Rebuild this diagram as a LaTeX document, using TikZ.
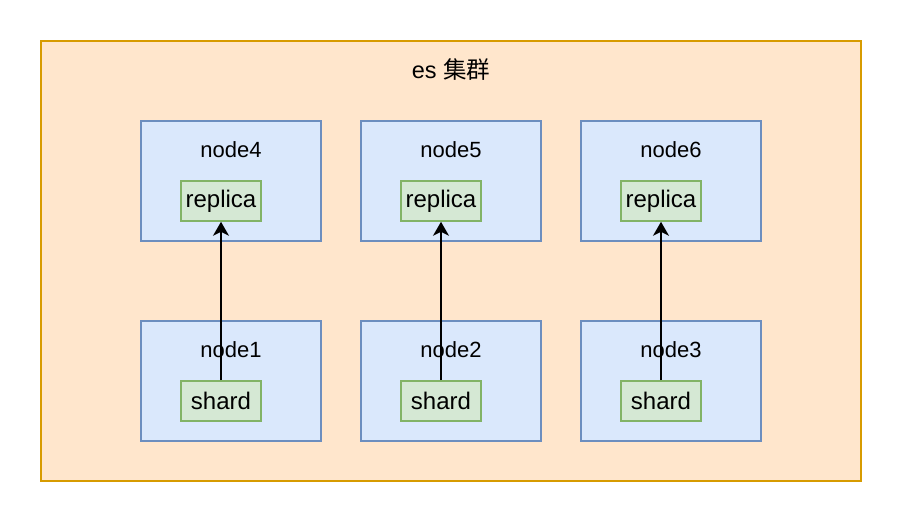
\documentclass[tikz,border=0pt]{standalone}
\usepackage{fontspec}
\setmainfont{Liberation Sans}
\newfontfamily\cjk{Noto Sans CJK SC}
\usetikzlibrary{arrows.meta}
\definecolor{clusterfill}{HTML}{FFE6CC}
\definecolor{clusterline}{HTML}{D79B00}
\definecolor{hostfill}{HTML}{DAE8FC}
\definecolor{hostline}{HTML}{6C8EBF}
\definecolor{partfill}{HTML}{D5E8D4}
\definecolor{partline}{HTML}{82B366}
\tikzset{
  cluster/.style={draw=clusterline, fill=clusterfill, line width=1.6pt, minimum width=820pt, minimum height=440pt},
  host/.style={draw=hostline, fill=hostfill, line width=1.6pt, minimum width=180pt, minimum height=120pt},
  part/.style={draw=partline, fill=partfill, line width=1.6pt, minimum width=80pt, minimum height=40pt, inner sep=0pt, font=\fontsize{24}{28}\selectfont},
  copyarrow/.style={line width=2pt, -{Stealth[length=14pt, width=16pt, inset=4pt]}}
}
\begin{document}
\begin{tikzpicture}[x=1pt, y=-1pt, font=\fontsize{22}{26}\selectfont]
\useasboundingbox (0,0) rectangle (922,522);
\node[cluster] (cluster) at (451, 261) {};
\node[font=\fontsize{23.5}{28}\selectfont] (title) at (451, 70) {es {\cjk 集群}};

\node[host] (node4) at (231, 181) {};
\node[host] (node5) at (451, 181) {};
\node[host] (node6) at (671, 181) {};
\node[host] (node1) at (231, 381) {};
\node[host] (node2) at (451, 381) {};
\node[host] (node3) at (671, 381) {};

\node (name4) at (231, 150) {node4};
\node (name5) at (451, 150) {node5};
\node (name6) at (671, 150) {node6};
\node (name1) at (231, 350) {node1};
\node (name2) at (451, 350) {node2};
\node (name3) at (671, 350) {node3};

\node[part] (replica4) at (221, 201) {replica};
\node[part] (replica5) at (441, 201) {replica};
\node[part] (replica6) at (661, 201) {replica};
\node[part] (shard1) at (221, 401) {shard};
\node[part] (shard2) at (441, 401) {shard};
\node[part] (shard3) at (661, 401) {shard};

\draw[copyarrow] (shard1) -- (replica4);
\draw[copyarrow] (shard2) -- (replica5);
\draw[copyarrow] (shard3) -- (replica6);
\end{tikzpicture}
\end{document}
